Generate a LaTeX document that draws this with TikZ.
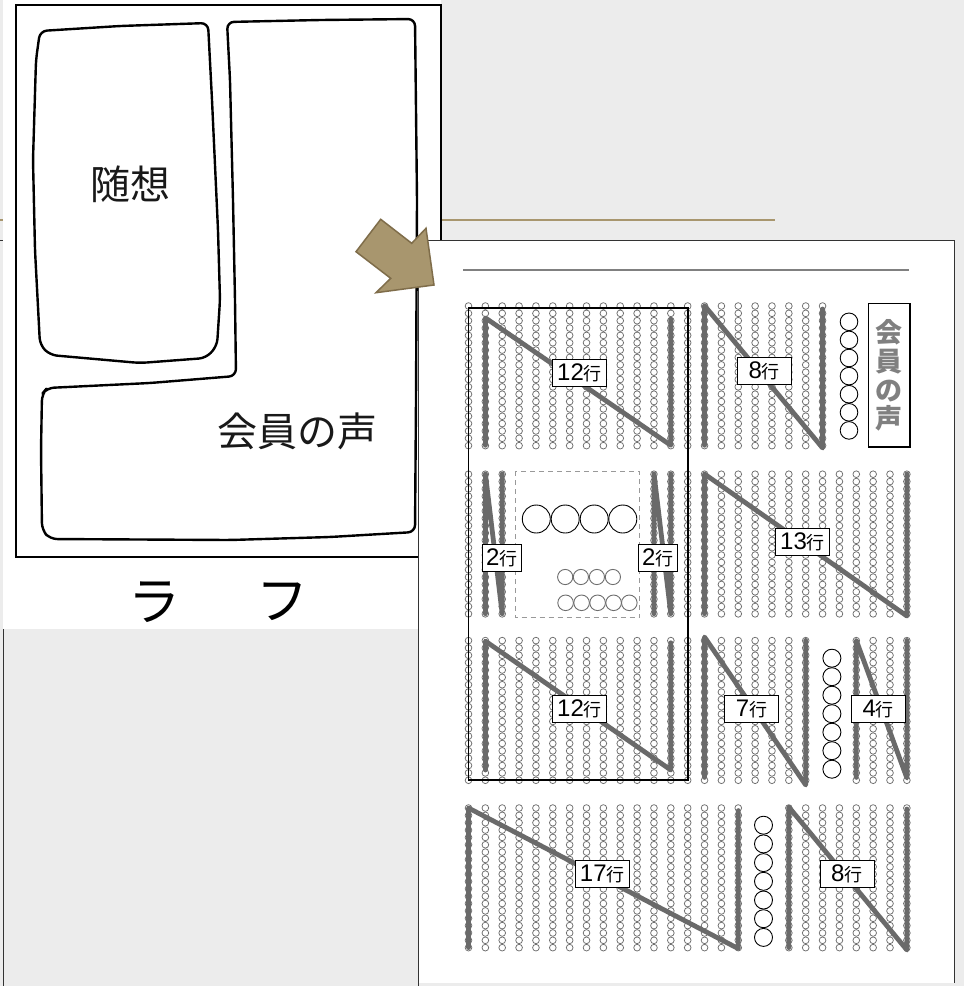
\documentclass[tikz,border=0pt]{standalone}
\usepackage{fontspec}
\newfontfamily\cjk{Noto Sans CJK JP}
\newfontfamily\labf{Liberation Sans}
\definecolor{bg}{HTML}{ECECEC}
\definecolor{tanc}{HTML}{A8966E}
\definecolor{arrowline}{HTML}{7F6D4A}
\definecolor{nl}{HTML}{6A6A6A}
\definecolor{dotc}{HTML}{6E6E6E}
\begin{document}
\begin{tikzpicture}[x=1pt,y=-1pt,
  sk/.style={line width=2.4pt, black, rounded corners=7pt, line join=round},
  dot/.style={draw=dotc, line width=0.75pt},
  nline/.style={draw=nl, line width=4.8pt, line join=round, line cap=round},
  lab/.style={draw=black, fill=white, line width=0.8pt, inner sep=0pt, minimum width=54pt, minimum height=27pt},
  labn/.style={lab, minimum width=39pt},
  bigc/.style={draw=black, line width=0.9pt},
  smc/.style={draw=dotc, line width=0.9pt}]
\useasboundingbox (0,0) rectangle (964,986);
% background
\fill[bg] (0,0) rectangle (964,986);
\draw[tanc, line width=2pt] (0,220) -- (775,220);
\draw[black!80, line width=0.8pt] (0,240.5) -- (3,240.5) -- (3,986);
% ---------- rough sketch ----------
\fill[white] (3.4,0) rectangle (441,629);
\draw[line width=1.6pt] (16,5) rectangle (441,557);
\draw[sk] (40,31) -- (120,26) -- (208,23) -- (212,100) -- (218,230) -- (220,300) -- (217,346) -- (206,358)
  -- (140,363) -- (50,355) -- (40,345) -- (35,250) -- (33,160) -- (36,60) -- cycle;
\draw[sk] (227,22) -- (320,20) -- (415,19) -- (417,200) -- (416,400) -- (415,532) -- (330,537) -- (230,540)
  -- (50,539) -- (42,530) -- (41,450) -- (42,394) -- (47,388) -- (150,383) -- (236,376)
  -- (235,300) -- (233,200) -- (230,80) -- cycle;
\node[font=\cjk\fontsize{40}{40}\selectfont, text=black!90] (zuiso) at (130,184) {随想};
\node[font=\cjk\fontsize{40}{40}\selectfont, text=black!90] (kaiin) at (297,431) {会員の声};
\node[font=\cjk\fontsize{52}{52}\selectfont] (ra) at (154,602) {ラ};
\node[font=\cjk\fontsize{52}{52}\selectfont] (fu) at (282,602) {フ};
% ---------- layout panel ----------
\fill[white] (418,240.5) rectangle (954.5,983);
\draw[black!80, line width=0.9pt] (418,986) -- (418,240.5) -- (954.5,240.5) -- (954.5,983);
\draw[gray, line width=1.8pt] (463,270.2) -- (908.5,270.2);
% dot grid
\foreach \k in {0,...,21} {\foreach \i in {0,...,19} {\draw[dot] (468.5+16.86*\k,306+7.35*\i) circle[radius=3.35pt];}}
\foreach \k in {0,1,2,11,12,...,26} {\foreach \i in {0,...,19} {\draw[dot] (468.5+16.86*\k,474.2+7.35*\i) circle[radius=3.35pt];}}
\foreach \k in {0,...,20,23,24,25,26} {\foreach \i in {0,...,19} {\draw[dot] (468.5+16.86*\k,640.6+7.35*\i) circle[radius=3.35pt];}}
\foreach \k in {0,...,16,19,20,...,26} {\foreach \i in {0,...,19} {\draw[dot] (468.5+16.86*\k,808+7.35*\i) circle[radius=3.35pt];}}
% frame of the essay area
\draw[line width=1.8pt] (468.5,308.3) rectangle (687.8,780);
% N lines
\draw[nline] (485.4,445.3) -- (485.4,317.9) -- (670.8,445.3) -- (670.8,319.2);
\draw[nline] (704.5,445.3) -- (704.5,305.6) -- (822.6,448) -- (822.6,309);
\draw[nline] (485.4,613.7) -- (485.4,474) -- (502.2,613.7) -- (502.2,474);
\draw[nline] (654,613.7) -- (654,474) -- (670.8,613.7) -- (670.8,474);
\draw[nline] (704.5,613.7) -- (704.5,474) -- (906.9,616) -- (906.9,474);
\draw[nline] (485.4,770) -- (485.4,641.1) -- (670.8,770) -- (670.8,642.8);
\draw[nline] (704.5,777.4) -- (704.5,637) -- (805.7,785) -- (805.7,640.4);
\draw[nline] (856.3,777.4) -- (856.3,640.4) -- (906.9,778) -- (906.9,640.4);
\draw[nline] (468.5,947.6) -- (468.5,808) -- (738.3,948.6) -- (738.3,810.6);
\draw[nline] (788.8,947.6) -- (788.8,807) -- (906.9,950) -- (906.9,809);
% headline area in row 2
\draw[gray!80, dash pattern=on 5pt off 4pt, line width=0.8pt] (515.1,471.3) rectangle (639.5,617.8);
\foreach \x in {536.3,565.2,594.2,622.8} {\draw[bigc] (\x,519) circle[radius=14pt];}
\foreach \x in {565.2,580.9,596.9,612.9} {\draw[smc] (\x,577) circle[radius=7.6pt];}
\foreach \x in {565.6,581.6,597.6,613.6,629.3} {\draw[smc] (\x,602.8) circle[radius=7.8pt];}
% big circle columns
\foreach \i in {0,...,6} {\draw[bigc] (849,321.8+18.1*\i) circle[radius=8.8pt];}
\foreach \i in {0,...,6} {\draw[bigc] (831.9,658.2+18.5*\i) circle[radius=9pt];}
\foreach \i in {0,...,6} {\draw[bigc] (763.5,825.2+18.7*\i) circle[radius=9pt];}
% title box
\draw[line width=1.8pt] (868.5,303.5) rectangle (910,447);
\node[font=\cjk\bfseries\fontsize{27}{28.7}\selectfont, text=black!50, align=center, inner sep=0pt] (title) at (889.3,375.5) {会\\員\\の\\声};
% labels
\newcommand\lbl[1]{{\labf\fontsize{24}{24}\selectfont #1}{\cjk\fontsize{18}{18}\selectfont 行}}
\node[lab] (l1) at (579.5,372.7) {\lbl{12}};
\node[lab] (l2) at (764.3,370.4) {\lbl{8}};
\node[labn] (l3) at (501.7,557.5) {\lbl{2}};
\node[labn] (l4) at (657.7,557.5) {\lbl{2}};
\node[lab] (l5) at (802.5,541.5) {\lbl{13}};
\node[lab] (l6) at (579.5,709.2) {\lbl{12}};
\node[lab] (l7) at (751.5,709.2) {\lbl{7}};
\node[lab] (l8) at (878.2,709.2) {\lbl{4}};
\node[lab] (l9) at (602.3,873.7) {\lbl{17}};
\node[lab] (l10) at (846.9,873.7) {\lbl{8}};
% arrow
\filldraw[fill=tanc, draw=arrowline, line width=1.5pt, line join=miter]
  (380.7,219.3) -- (411.7,243.3) -- (426,228.3) -- (434,285) -- (376,292.7) -- (390.7,278.3) -- (356,251.7) -- cycle;
\end{tikzpicture}
\end{document}
